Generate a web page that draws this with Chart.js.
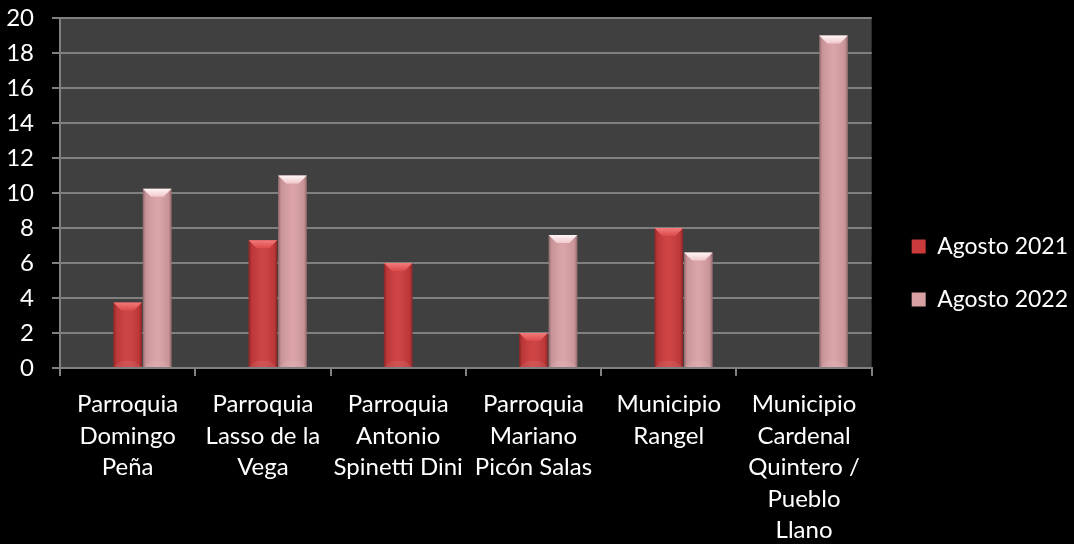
<!DOCTYPE html>
<html>
<head>
<meta charset="utf-8">
<script src="https://cdn.jsdelivr.net/npm/chart.js@4/dist/chart.umd.min.js"></script>
<style>
  html, body { margin: 0; padding: 0; background: #000; }
  #wrap { width: 1074px; height: 544px; }
</style>
</head>
<body>
<div id="wrap"><canvas id="grafica"></canvas></div>
<script>
// Datos
const categorias = [
  ['Parroquia', 'Domingo', 'Peña'],
  ['Parroquia', 'Lasso de la', 'Vega'],
  ['Parroquia', 'Antonio', 'Spinetti Dini'],
  ['Parroquia', 'Mariano', 'Picón Salas'],
  ['Municipio', 'Rangel'],
  ['Municipio', 'Cardenal', 'Quintero /', 'Pueblo', 'Llano']
];
// serie vacía que en el original ocupa el primer hueco de cada grupo
const serieVacia = [null, null, null, null, null, null];
const agosto2021 = [3.75, 7.3, 6, 2, 8, null];
const agosto2022 = [10.25, 11, null, 7.6, 6.6, 19];
const ticksY = [0, 2, 4, 6, 8, 10, 12, 14, 16, 18, 20];

const fuente = 'Lato, "Open Sans", sans-serif';

// fondo gris del área de trazado
const fondoPlot = {
  id: 'fondoPlot',
  afterLayout(chart) {
    // acerca la leyenda al borde derecho como en el original
    const lg = chart.legend;
    if (lg) { lg.left += 10; lg.right += 10; lg.top -= 8; lg.bottom -= 8; }
  },
  beforeDraw(chart) {
    const { ctx, chartArea: a } = chart;
    ctx.save();
    ctx.fillStyle = '#404040';
    ctx.fillRect(a.left, a.top, a.right - a.left, a.bottom - a.top);
    ctx.restore();
  }
};

// efecto biselado de las barras
const bisel = {
  id: 'bisel',
  afterDatasetsDraw(chart) {
    const ctx = chart.ctx;
    chart.data.datasets.forEach((ds, i) => {
      if (!ds.brillo) return;
      const meta = chart.getDatasetMeta(i);
      meta.data.forEach((bar, idx) => {
        if (ds.data[idx] == null) return;
        const w = bar.width, l = bar.x - w / 2, r = bar.x + w / 2;
        const t = bar.y, b = bar.base;
        const bv = Math.min(8, (b - t) / 3), sv = 3;
        ctx.save();
        // lados oscuros
        const g = ctx.createLinearGradient(l, 0, r, 0);
        g.addColorStop(0, 'rgba(0,0,0,0.35)');
        g.addColorStop(0.1, 'rgba(0,0,0,0.08)');
        g.addColorStop(0.5, 'rgba(255,255,255,0.05)');
        g.addColorStop(0.9, 'rgba(0,0,0,0.08)');
        g.addColorStop(1, 'rgba(0,0,0,0.35)');
        ctx.fillStyle = g;
        ctx.fillRect(l, t, w, b - t);
        // cara superior clara
        ctx.beginPath();
        ctx.moveTo(l, t);
        ctx.lineTo(r, t);
        ctx.lineTo(r - sv - 5, t + bv);
        ctx.lineTo(l + sv + 5, t + bv);
        ctx.closePath();
        const gt = ctx.createLinearGradient(0, t, 0, t + bv);
        gt.addColorStop(0, ds.brillo[0]);
        gt.addColorStop(1, ds.brillo[1]);
        ctx.fillStyle = gt;
        ctx.fill();
        // base ligeramente clara
        ctx.beginPath();
        ctx.moveTo(l, b);
        ctx.lineTo(r, b);
        ctx.lineTo(r - sv - 5, b - 6);
        ctx.lineTo(l + sv + 5, b - 6);
        ctx.closePath();
        ctx.fillStyle = 'rgba(255,255,255,0.08)';
        ctx.fill();
        ctx.restore();
      });
    });
  }
};

new Chart(document.getElementById('grafica'), {
  type: 'bar',
  data: {
    labels: categorias,
    datasets: [
      { label: '', data: serieVacia, backgroundColor: 'rgba(0,0,0,0)' },
      {
        label: 'Agosto 2021', data: agosto2021,
        backgroundColor: '#cc3b3c', borderWidth: 0,
        brillo: ['#f47a7a', '#dc4a4a']
      },
      {
        label: 'Agosto 2022', data: agosto2022,
        backgroundColor: '#d9a0a4', borderWidth: 0,
        brillo: ['#fff6f6', '#f0c8cc']
      }
    ]
  },
  options: {
    responsive: true,
    maintainAspectRatio: false,
    animation: false,
    layout: { padding: { top: 18, left: 0, right: 6, bottom: 0 } },
    datasets: { bar: { categoryPercentage: 0.655, barPercentage: 0.97, skipNull: false } },
    scales: {
      x: {
        offset: true,
        afterFit: s => { s.height = 176; s.paddingLeft = 0; s.paddingRight = 0; },
        grid: {
          offset: true, drawOnChartArea: false, drawTicks: true,
          tickLength: 8, color: '#808080', lineWidth: 2
        },
        border: { color: '#808080', width: 2 },
        ticks: {
          color: '#ffffff', maxRotation: 0, autoSkip: false, padding: 13,
          font: { family: fuente, size: 24, lineHeight: 1.31 }
        }
      },
      y: {
        min: 0, max: 20,
        afterBuildTicks: axis => { axis.ticks = ticksY.map(v => ({ value: v })); },
        afterFit: s => { s.width = 60; s.paddingTop = 0; s.paddingBottom = 0; },
        grid: { color: '#808080', lineWidth: 2, tickLength: 8 },
        border: { color: '#808080', width: 2 },
        ticks: {
          color: '#ffffff', padding: 18,
          font: { family: fuente, size: 24 }
        }
      }
    },
    plugins: {
      legend: {
        position: 'right',
        labels: {
          color: '#ffffff', boxWidth: 14, boxHeight: 14, padding: 30,
          font: { family: fuente, size: 23 },
          filter: item => item.text !== ''
        }
      },
      tooltip: { enabled: false }
    }
  },
  plugins: [fondoPlot, bisel]
});
</script>
</body>
</html>
